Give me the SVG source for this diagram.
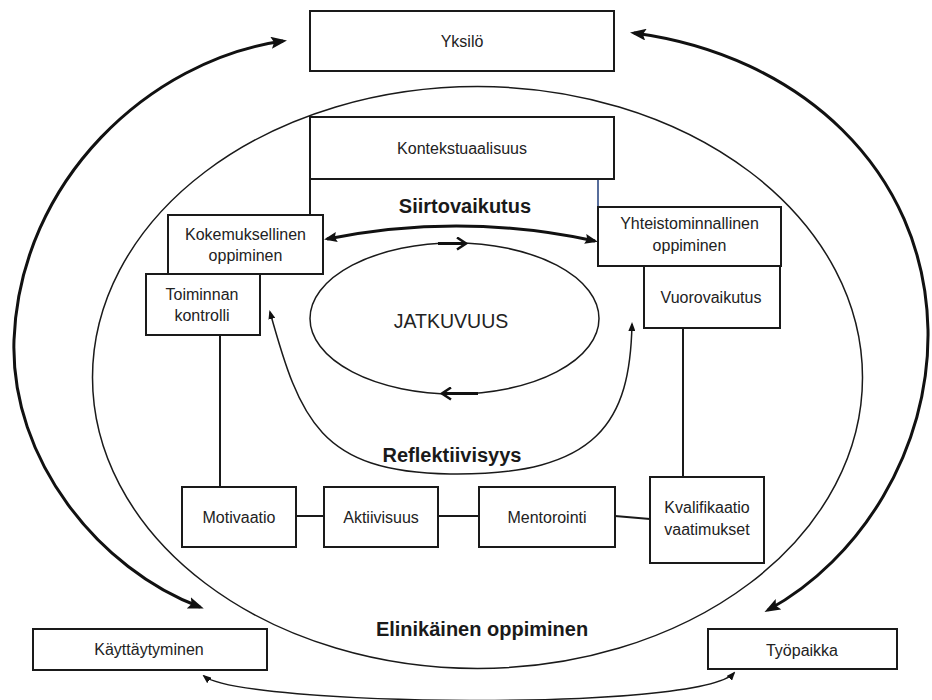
<svg xmlns="http://www.w3.org/2000/svg" width="932" height="700" viewBox="0 0 932 700">
<defs>
<style>
.box{fill:#fff;stroke:#1a1a1a;stroke-width:2}
.lbl{font-family:"Liberation Sans",Arial,sans-serif;font-size:16px;fill:#222;text-anchor:middle}
.big{font-family:"Liberation Sans",Arial,sans-serif;font-size:20px;font-weight:bold;fill:#1a1a1a;text-anchor:middle}
.mid{font-family:"Liberation Sans",Arial,sans-serif;font-size:19.5px;fill:#222;text-anchor:middle}
.line{fill:none;stroke:#1a1a1a;stroke-width:2}
.thin{fill:none;stroke:#1a1a1a;stroke-width:1.5}
.thick{fill:none;stroke:#111;stroke-width:3}
</style>
<marker id="ahBig" markerUnits="userSpaceOnUse" markerWidth="16" markerHeight="12" refX="12" refY="6" orient="auto-start-reverse" viewBox="0 0 16 12">
<path d="M0,0 L16,6 L0,12 L3,6 z" fill="#111"/>
</marker>
<marker id="ahMid" markerUnits="userSpaceOnUse" markerWidth="13" markerHeight="10" refX="10" refY="5" orient="auto-start-reverse" viewBox="0 0 13 10">
<path d="M0,0 L13,5 L0,10 L2,5 z" fill="#111"/>
</marker>
<marker id="ahSmall" markerUnits="userSpaceOnUse" markerWidth="9" markerHeight="7" refX="7" refY="3.5" orient="auto-start-reverse" viewBox="0 0 9 7">
<path d="M0,0 L9,3.5 L0,7 z" fill="#111"/>
</marker>
<marker id="ahOpen" markerUnits="userSpaceOnUse" markerWidth="12" markerHeight="14" refX="10" refY="7" orient="auto" viewBox="0 0 12 14">
<path d="M1,1 L10,7 L1,13" fill="none" stroke="#111" stroke-width="2.5"/>
</marker>
</defs>
<rect width="932" height="700" fill="#fff"/>

<g id="lifelong">
<ellipse cx="477.5" cy="377.5" rx="385" ry="291" fill="none" stroke="#1a1a1a" stroke-width="1.5"/>
<text class="big" x="482" y="636">Elinikäinen oppiminen</text>
</g>

<g id="connectors">
<path class="thick" d="M283,41 C150,60 20,180 14,340 C10,460 100,570 200,607" marker-start="url(#ahBig)" marker-end="url(#ahBig)"/>
<path class="thick" d="M634,33 C800,55 925,170 928,330 C930,450 860,560 768,610" marker-start="url(#ahBig)" marker-end="url(#ahBig)"/>
<path class="thin" d="M204,676 C240,706 700,712 734,673" marker-start="url(#ahSmall)" marker-end="url(#ahSmall)"/>
<path class="thick" d="M327,239 Q461,212 595,241" marker-start="url(#ahMid)" marker-end="url(#ahMid)"/>
<path class="thin" d="M270,312 C300,420 320,472 450,474 C600,476 630,420 632,324" marker-start="url(#ahSmall)" marker-end="url(#ahSmall)"/>
<line class="line" x1="310" y1="179" x2="310" y2="215"/>
<line x1="598" y1="179" x2="598" y2="207" stroke="#1f3d7a" stroke-width="1.5"/>
<line class="line" x1="220" y1="335" x2="220" y2="487"/>
<line class="line" x1="683" y1="328" x2="683" y2="490"/>
<line class="line" x1="296" y1="516" x2="324" y2="516"/>
<line class="line" x1="438" y1="516" x2="479" y2="516"/>
<line class="line" x1="615" y1="516" x2="650" y2="519"/>
</g>

<g id="jatkuvuus">
<ellipse cx="454.5" cy="318.5" rx="144.5" ry="75.5" fill="none" stroke="#1a1a1a" stroke-width="1.5"/>
<line x1="438" y1="243.5" x2="466" y2="243.5" stroke="#111" stroke-width="3" marker-end="url(#ahOpen)"/>
<line x1="478" y1="393.5" x2="442" y2="393.5" stroke="#111" stroke-width="3" marker-end="url(#ahOpen)"/>
<text class="mid" x="451" y="328">JATKUVUUS</text>
</g>

<g id="siirtovaikutus"><text class="big" x="465" y="213">Siirtovaikutus</text></g>
<g id="reflektiivisyys"><text class="big" x="452" y="462">Reflektiivisyys</text></g>

<g id="yksilo">
<rect class="box" x="310" y="11" width="304" height="60"/>
<text class="lbl" x="462" y="47">Yksilö</text>
</g>
<g id="kontekstuaalisuus">
<rect class="box" x="310" y="117" width="304" height="62"/>
<text class="lbl" x="462" y="154">Kontekstuaalisuus</text>
</g>
<g id="kokemuksellinen">
<rect class="box" x="168" y="215" width="155" height="59"/>
<text class="lbl" x="245.5" y="240">Kokemuksellinen</text>
<text class="lbl" x="245.5" y="261">oppiminen</text>
</g>
<g id="toiminnan">
<rect class="box" x="146" y="274" width="114" height="61"/>
<text class="lbl" x="202" y="300">Toiminnan</text>
<text class="lbl" x="202" y="321">kontrolli</text>
</g>
<g id="yhteistominnallinen">
<rect class="box" x="598" y="207" width="183" height="59"/>
<text class="lbl" x="689.5" y="229">Yhteistominnallinen</text>
<text class="lbl" x="689.5" y="251">oppiminen</text>
</g>
<g id="vuorovaikutus">
<rect class="box" x="644" y="266" width="136" height="62"/>
<text class="lbl" x="711" y="303">Vuorovaikutus</text>
</g>
<g id="motivaatio">
<rect class="box" x="182" y="487" width="114" height="60"/>
<text class="lbl" x="239" y="523">Motivaatio</text>
</g>
<g id="aktiivisuus">
<rect class="box" x="324" y="487" width="114" height="60"/>
<text class="lbl" x="381" y="523">Aktiivisuus</text>
</g>
<g id="mentorointi">
<rect class="box" x="479" y="487" width="136" height="60"/>
<text class="lbl" x="547" y="523">Mentorointi</text>
</g>
<g id="kvalifikaatio">
<rect class="box" x="650" y="477" width="114" height="86"/>
<text class="lbl" x="707" y="513">Kvalifikaatio</text>
<text class="lbl" x="707" y="535">vaatimukset</text>
</g>
<g id="kayttaytyminen">
<rect class="box" x="33" y="629" width="234" height="41"/>
<text class="lbl" x="149" y="655">Käyttäytyminen</text>
</g>
<g id="tyopaikka">
<rect class="box" x="708" y="629" width="189" height="40"/>
<text class="lbl" x="802" y="656">Työpaikka</text>
</g>
</svg>
